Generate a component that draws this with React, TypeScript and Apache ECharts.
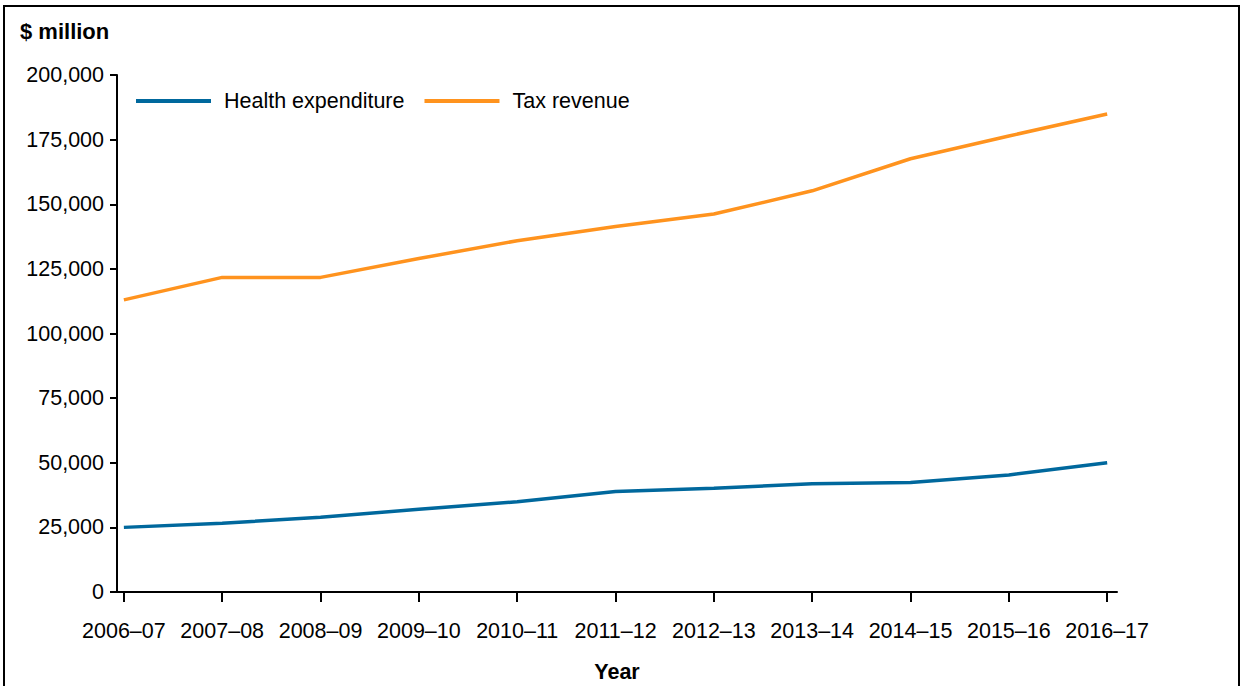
import React, { useEffect, useRef } from "react";
import * as echarts from "echarts";

const categories = [
  "2006–07", "2007–08", "2008–09", "2009–10", "2010–11", "2011–12",
  "2012–13", "2013–14", "2014–15", "2015–16", "2016–17",
];
const healthExpenditure = [25000, 26600, 28900, 32000, 34900, 38900, 40100, 41900, 42400, 45300, 50000];
const taxRevenue = [113000, 121700, 121700, 129000, 135900, 141400, 146200, 155200, 167600, 176400, 184900];
const yTicks = [0, 25000, 50000, 75000, 100000, 125000, 150000, 175000, 200000];

const FONT = '"Liberation Sans", Arial, sans-serif';
const BLUE = "#00689D";
const ORANGE = "#FF931E";

export default function App() {
  const ref = useRef<HTMLDivElement>(null);
  useEffect(() => {
    if (!ref.current) return;
    const chart = echarts.init(ref.current, null, { renderer: "svg" });
    const idx = categories.map((_, i) => i);
    chart.setOption({
      animation: false,
      backgroundColor: "#ffffff",
      textStyle: { fontFamily: FONT },
      grid: { left: 117, right: 125, top: 75, bottom: 94, containLabel: false, outerBoundsMode: "none" },
      legend: {
        left: 131,
        top: 85,
        itemWidth: 75,
        itemHeight: 4,
        itemGap: 20,
        icon: "rect",
        textStyle: { fontFamily: FONT, fontSize: 21.5, color: "#000", padding: [0, 0, 0, 8] },
        data: [
          { name: "Health expenditure", itemStyle: { color: BLUE } },
          { name: "Tax revenue", itemStyle: { color: ORANGE } },
        ],
      },
      xAxis: {
        type: "value",
        min: -0.07,
        max: 10.1,
        splitLine: { show: false },
        axisLine: { show: true, onZero: false, lineStyle: { color: "#000", width: 2 } },
        axisTick: { show: true, length: 10, customValues: idx, lineStyle: { color: "#000", width: 2 } },
        axisLabel: {
          customValues: idx,
          margin: 28,
          fontSize: 21.5,
          color: "#000",
          fontFamily: FONT,
          formatter: (v: number) => categories[Math.round(v)] ?? "",
        },
        name: "Year",
        nameLocation: "middle",
        nameGap: 69,
        nameTextStyle: { fontSize: 21.5, fontWeight: "bold", color: "#000", fontFamily: FONT },
      },
      yAxis: {
        type: "value",
        min: yTicks[0],
        max: yTicks[yTicks.length - 1],
        interval: 25000,
        splitLine: { show: false },
        axisLine: { show: true, onZero: false, lineStyle: { color: "#000", width: 2 } },
        axisTick: { show: true, length: 7, lineStyle: { color: "#000", width: 2 } },
        axisLabel: {
          margin: 13,
          fontSize: 21.5,
          color: "#000",
          fontFamily: FONT,
          formatter: (v: number) => v.toLocaleString("en-US"),
        },
      },
      graphic: [
        {
          type: "rect",
          shape: { x: 4, y: 6, width: 1235, height: 720 },
          style: { fill: "none", stroke: "#000", lineWidth: 2 },
          silent: true,
        },
        {
          type: "text",
          x: 20,
          y: 31,
          style: {
            text: "$ million",
            fontSize: 22,
            fontWeight: "bold",
            fontFamily: FONT,
            fill: "#000",
            verticalAlign: "middle",
            align: "left",
          },
        },
      ],
      series: [
        {
          name: "Health expenditure",
          type: "line",
          symbol: "none",
          data: healthExpenditure.map((v, i) => [i, v]),
          lineStyle: { color: BLUE, width: 3.5 },
          itemStyle: { color: BLUE },
        },
        {
          name: "Tax revenue",
          type: "line",
          symbol: "none",
          data: taxRevenue.map((v, i) => [i, v]),
          lineStyle: { color: ORANGE, width: 3.5 },
          itemStyle: { color: ORANGE },
        },
      ],
    });
    return () => chart.dispose();
  }, []);
  return (
    <div
      ref={ref}
      style={{ position: "fixed", left: 0, top: 0, width: 1242, height: 686, background: "#fff" }}
    />
  );
}
